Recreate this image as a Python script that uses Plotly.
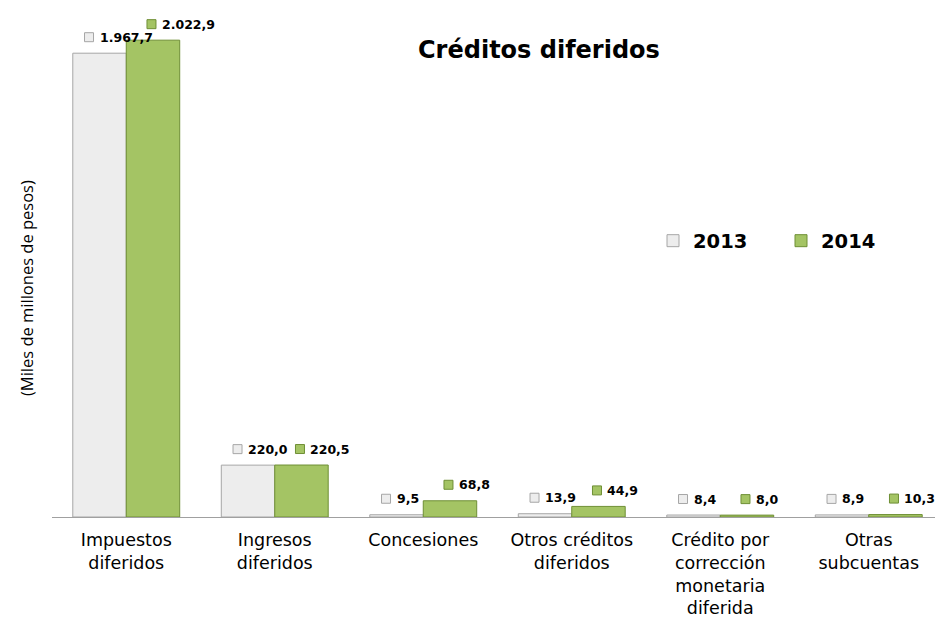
import plotly.graph_objects as go

categories = ["Impuestos<br>diferidos", "Ingresos<br>diferidos", "Concesiones",
              "Otros créditos<br>diferidos", "Crédito por<br>corrección<br>monetaria<br>diferida",
              "Otras<br>subcuentas"]
values_2013 = [1967.7, 220.0, 9.5, 13.9, 8.4, 8.9]
values_2014 = [2022.9, 220.5, 68.8, 44.9, 8.0, 10.3]
series_names = ["2013", "2014"]

x_pos = list(range(len(categories)))
OFFSET = 0.18

def fmt(v):
    s = f"{v:,.1f}"
    return s.replace(",", "X").replace(".", ",").replace("X", ".")

fills = {"2013": "#ededed", "2014": "#a4c464"}
lines = {"2013": "#a6a6a6", "2014": "#6f8f35"}
label_shift = {"2013": -4, "2014": 5}

# page has an 8px body margin; figure sized to fit the window
L, R, T, B, W, H = 44, 0, 0, 100, 935, 609
pw, ph = W - L - R, H - T - B
Y_MAX = 2100 * ph / 495  # keeps 495 px for 2100 units

fig = go.Figure()
for name, vals in zip(series_names, [values_2013, values_2014]):
    fig.add_trace(go.Bar(
        x=x_pos, y=vals, name=name,
        marker=dict(color=fills[name], line=dict(color=lines[name], width=1)),
    ))

annotations = []
shapes = []
for name, vals, sign in [("2013", values_2013, -1), ("2014", values_2014, 1)]:
    s = label_shift[name]
    for xi, v in zip(x_pos, vals):
        xc = xi + sign * OFFSET
        annotations.append(dict(
            x=xc, y=v, xref="x", yref="y", text=fmt(v), showarrow=False,
            xanchor="left", yanchor="middle", xshift=2 + s, yshift=16,
            font=dict(family="DejaVu Sans", size=12.5, color="#000000", weight="bold"),
        ))
        shapes.append(dict(
            type="rect", xref="x", yref="y", xsizemode="pixel", ysizemode="pixel",
            xanchor=xc, yanchor=v, x0=-11 + s, x1=-2 + s, y0=11.5, y1=20.5,
            fillcolor=fills[name], line=dict(color=lines[name], width=1),
        ))

annotations.append(dict(
    x=(531 - L) / pw, y=(H - B - 42) / ph, xref="paper", yref="paper",
    text="<b>Créditos diferidos</b>",
    showarrow=False, xanchor="center", yanchor="middle",
    font=dict(family="DejaVu Sans", size=24, color="#000000"),
))
annotations.append(dict(
    x=(19 - L) / pw, y=(H - B - 280) / ph, xref="paper", yref="paper",
    text="(Miles de millones de pesos)",
    showarrow=False, textangle=-90, xanchor="center", yanchor="middle",
    font=dict(family="Open Sans", size=16.5, color="#000000"),
))

fig.update_layout(
    width=W, height=H,
    margin=dict(l=L, r=R, t=T, b=B, autoexpand=False),
    paper_bgcolor="white", plot_bgcolor="white",
    barmode="group", bargap=0.28, bargroupgap=0,
    showlegend=True,
    legend=dict(
        orientation="h", x=(659 - 14 - L) / pw, y=(H - B - 233) / ph,
        xanchor="left", yanchor="middle",
        entrywidth=83, entrywidthmode="pixels",
        font=dict(family="DejaVu Sans", size=19.5, color="#000000", weight="bold"),
        bgcolor="rgba(0,0,0,0)",
    ),
    xaxis=dict(
        tickmode="array", tickvals=x_pos, ticktext=categories,
        range=[-0.5, len(categories) - 0.5],
        showline=True, linecolor="#a0a0a0", linewidth=1,
        ticks="", showgrid=False, zeroline=False, ticklabelstandoff=7,
        tickfont=dict(family="DejaVu Sans", size=17.5, color="#000000"),
    ),
    yaxis=dict(
        range=[0, Y_MAX], showticklabels=False, ticks="", showgrid=False,
        zeroline=False, showline=False,
    ),
    annotations=annotations,
    shapes=shapes,
)

fig.write_html("out.html")
